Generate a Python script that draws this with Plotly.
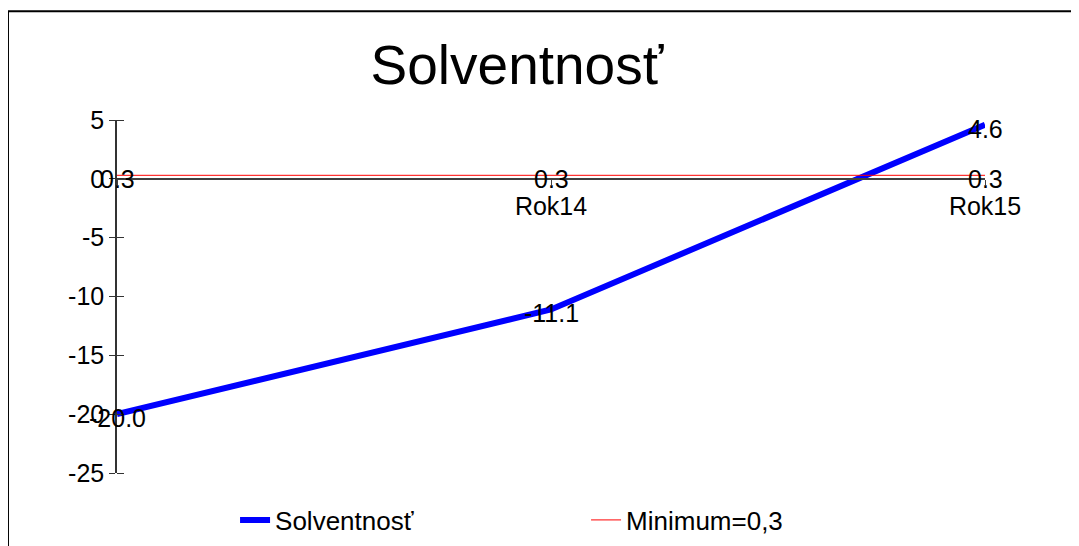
import plotly.graph_objects as go

# data
roky = [0, 1, 2]
rok_popisky = ["", "Rok14", "Rok15"]
solventnost = [-20.0, -11.1, 4.6]
minimum = [0.3, 0.3, 0.3]
y_ticky = [5, 0, -5, -10, -15, -20, -25]

font = "Liberation Sans, Arial, sans-serif"

fig = go.Figure()

fig.add_trace(go.Scatter(
    x=roky, y=solventnost,
    name="Solventnosť",
    mode="lines",
    line=dict(color="#0000ff", width=6),
))

fig.add_trace(go.Scatter(
    x=roky, y=minimum,
    name="Minimum=0,3",
    mode="lines",
    line=dict(color="#ff0000", width=1),
))

# popisky hodnot (trochu pod bodom ako v originale)
popisky = []
for serie in (solventnost, minimum):
    for x, v in zip(roky, serie):
        popisky.append(dict(x=x, y=v, text=f"{v:.1f}", showarrow=False,
                            xanchor="center", yanchor="middle", yshift=-4,
                            font=dict(size=25, color="black")))

fig.update_layout(
    width=1079, height=546,
    margin=dict(l=109, r=102, t=112, b=80),
    plot_bgcolor="white",
    paper_bgcolor="white",
    font=dict(family=font, size=25, color="black"),
    title=dict(text="Solventnosť", x=0.4717, xref="container", xanchor="center",
               y=0.8956, yref="container", yanchor="middle",
               font=dict(size=55, color="black")),
    showlegend=True,
    legend=dict(orientation="h", x=0.136, xanchor="left", y=-0.13, yanchor="middle",
                font=dict(size=26), entrywidth=306, entrywidthmode="pixels",
                bgcolor="rgba(0,0,0,0)"),
    annotations=popisky,
    shapes=[dict(type="rect", xref="paper", yref="paper",
                 x0=-0.1256, y0=1.3079, x1=1.3, y1=-0.5,
                 line=dict(color="black", width=2))],
)

fig.update_xaxes(
    range=[0, 2],
    tickvals=roky, ticktext=rok_popisky,
    anchor="free", position=25 / 30,
    showline=True, linecolor="#404040", linewidth=2,
    ticks="outside", ticklen=5, tickcolor="#404040",
    showgrid=False, zeroline=False,
    tickfont=dict(size=25),
)

fig.update_yaxes(
    range=[-25, 5],
    tickvals=y_ticky, ticktext=[str(v) for v in y_ticky],
    showline=True, linecolor="#333333", linewidth=1.5,
    ticks="outside", ticklen=6, tickcolor="#333333",
    minor=dict(tickmode="array", tickvals=y_ticky, ticks="inside",
               ticklen=7, tickcolor="#333333", showgrid=False),
    showgrid=False, zeroline=False,
    tickfont=dict(size=25),
)

fig.write_html("out.html")
